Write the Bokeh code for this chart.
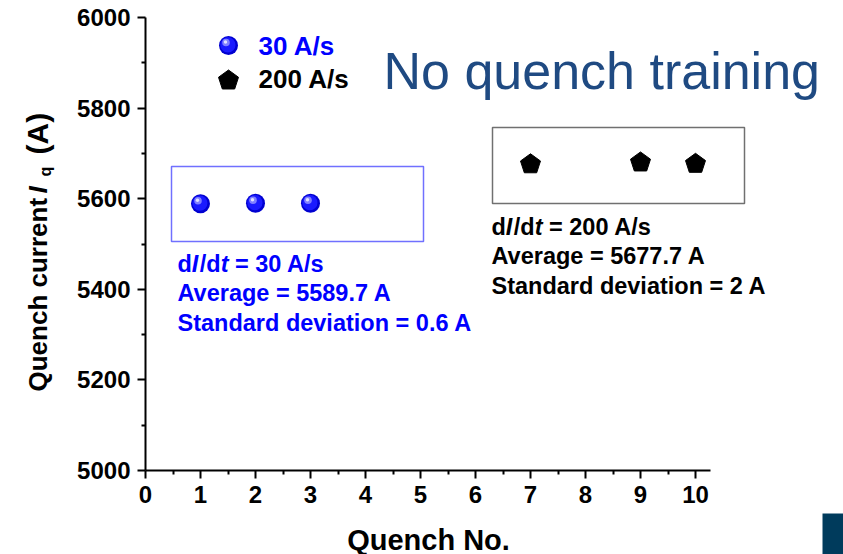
import math
from bokeh.plotting import figure
from bokeh.models import Range1d, FixedTicker, Label, BoxAnnotation, ColumnDataSource
from bokeh.transform import dodge
from bokeh.embed import file_html
from bokeh.resources import INLINE

# Quench number and quench current (A) for each ramp rate
quench_30 = [1, 2, 3]
current_30 = [5589, 5590, 5590]
quench_200 = [7, 9, 10]
current_200 = [5676, 5680, 5677]

x_ticks = list(range(0, 11))
y_ticks = [5000, 5200, 5400, 5600, 5800, 6000]

BOLD = "Liberation Sans"
BLUE = "#0000ff"
W, H = 843, 554

# pixel position of the axes origin and the scale of each axis
X0_PX, X_PX_PER_UNIT = 145, 55.0
Y_TOP_PX, Y_PX_PER_KA = 17, 453.0
X_PER_PX = 1 / X_PX_PER_UNIT
Y_PER_PX = 1000.0 / Y_PX_PER_KA


def dx(px):
    return (px - X0_PX) * X_PER_PX


def dy(py):
    return 6000 - (py - Y_TOP_PX) * Y_PER_PX


# the frame fills the whole page; the axes sit at fixed data locations inside it
p = figure(width=W, height=H, frame_width=W, frame_height=H,
           x_range=Range1d(dx(0), dx(W)), y_range=Range1d(dy(H), dy(0)),
           output_backend="svg", toolbar_location=None, min_border=0)
p.outline_line_color = None
p.xgrid.visible = False
p.ygrid.visible = False
p.background_fill_color = "white"
p.border_fill_color = "white"

for ax in (p.xaxis[0], p.yaxis[0]):
    ax.axis_line_width = 2
    ax.axis_line_color = "black"
    ax.major_tick_line_width = 2
    ax.minor_tick_line_width = 2
    ax.major_tick_in = 0
    ax.major_tick_out = 8
    ax.minor_tick_in = 0
    ax.minor_tick_out = 4
    ax.major_label_text_font = BOLD
    ax.major_label_text_font_style = "bold"
    ax.major_label_text_font_size = "24px"
    ax.major_label_text_color = "black"

p.xaxis[0].fixed_location = 5000
p.yaxis[0].fixed_location = 0
p.xaxis[0].ticker = FixedTicker(ticks=x_ticks, minor_ticks=[t + 0.5 for t in x_ticks[:-1]])
p.yaxis[0].ticker = FixedTicker(ticks=y_ticks, minor_ticks=[t + 100 for t in y_ticks[:-1]])
p.xaxis[0].bounds = (0, dx(710))
p.yaxis[0].bounds = (5000, 6000)
p.xaxis[0].major_label_standoff = 7
p.yaxis[0].major_label_standoff = 7


def pentagon(xc, yc, r_px):
    xs, ys = [], []
    for k in range(5):
        a = math.radians(90 + 72 * k)
        xs.append(xc + r_px * math.cos(a) * X_PER_PX)
        ys.append(yc + r_px * math.sin(a) * Y_PER_PX)
    return xs, ys


def sphere(src, xf, yf, size):
    p.scatter(xf, yf, source=src, size=size, fill_color="#0000d0", line_color=None)
    p.scatter(dodge(xf, -0.6 * X_PER_PX, range=p.x_range), dodge(yf, 0.6 * Y_PER_PX, range=p.y_range),
              source=src, size=size * 0.8, fill_color="#1a1aff", line_color=None)
    p.scatter(dodge(xf, -2.5 * X_PER_PX, range=p.x_range), dodge(yf, 3 * Y_PER_PX, range=p.y_range),
              source=src, size=size * 0.4, fill_color="#8080ff", line_color=None)
    p.scatter(dodge(xf, -3 * X_PER_PX, range=p.x_range), dodge(yf, 3.5 * Y_PER_PX, range=p.y_range),
              source=src, size=size * 0.18, fill_color="#e0e0ff", line_color=None)


# 30 A/s data
src30 = ColumnDataSource(dict(x=quench_30, y=current_30))
sphere(src30, "x", "y", 19)

# 200 A/s data
pent = [pentagon(x, y, 10.5) for x, y in zip(quench_200, current_200)]
p.patches([a for a, b in pent], [b for a, b in pent], fill_color="black", line_color="black")

# legend
leg = ColumnDataSource(dict(x=[dx(228)], y=[dy(45)]))
sphere(leg, "x", "y", 19)
lx, ly = pentagon(dx(228), dy(80), 10.5)
p.patch(lx, ly, fill_color="black", line_color="black")
p.add_layout(Label(x=dx(258), y=dy(45), text="30 A/s", text_color=BLUE, text_font=BOLD,
                   text_font_style="bold", text_font_size="26px", text_baseline="middle"))
p.add_layout(Label(x=dx(258), y=dy(78), text="200 A/s", text_color="black", text_font=BOLD,
                   text_font_style="bold", text_font_size="26px", text_baseline="middle"))

# title
p.add_layout(Label(x=dx(383), y=dy(70), text="No quench training", text_color="#1f4a82",
                   text_font="Liberation Sans", text_font_size="52px", text_baseline="alphabetic"))

# grouping boxes
p.add_layout(BoxAnnotation(left=dx(171), right=dx(423), top=dy(166), bottom=dy(241),
                           fill_alpha=0, line_color="#7070ff", line_alpha=1, line_width=1.5))
p.add_layout(BoxAnnotation(left=dx(492), right=dx(744), top=dy(127), bottom=dy(203),
                           fill_alpha=0, line_color="#707070", line_alpha=1, line_width=1.5))


def stats_block(x0, y_first, rate, avg, sd, color):
    fs = 23.5
    size = f"{fs}px"
    pieces = [("d", "bold", 611), ("I", "bold italic", 278 + 60), ("/d", "bold", 889),
              ("t", "bold italic", 333 + 278), (f"= {rate} A/s", "bold", 0)]
    off = 0.0
    for txt, style, adv in pieces:
        p.add_layout(Label(x=x0, y=y_first, x_offset=off, text=txt, text_color=color,
                           text_font=BOLD, text_font_style=style, text_font_size=size,
                           text_baseline="middle"))
        off += adv * fs / 1000.0
    for i, line in enumerate([f"Average = {avg} A", f"Standard deviation = {sd} A"]):
        p.add_layout(Label(x=x0, y=y_first, y_offset=-(i + 1) * 29.8, text=line,
                           text_color=color, text_font=BOLD, text_font_style="bold",
                           text_font_size=size, text_baseline="middle"))


stats_block(dx(177), dy(263), "30", "5589.7", "0.6", BLUE)
stats_block(dx(491), dy(226), "200", "5677.7", "2", "black")

# x axis title
p.add_layout(Label(x=dx(428), y=dy(539), text="Quench No.", text_font=BOLD, text_color="black",
                   text_font_style="bold", text_font_size="29px", text_align="center",
                   text_baseline="middle"))

# y axis title, built from pieces running upward
yx = dx(37)
fs = 26
p.add_layout(Label(x=yx, y=dy(391), text="Quench current", angle=math.pi / 2, text_font=BOLD,
                   text_color="black", text_font_style="bold", text_font_size=f"{fs}px",
                   text_baseline="middle"))
p.add_layout(Label(x=yx, y=dy(193), text="I", angle=math.pi / 2, text_font=BOLD,
                   text_color="black", text_font_style="bold italic", text_font_size=f"{fs}px",
                   text_baseline="middle"))
p.add_layout(Label(x=dx(45), y=dy(176), text="q", angle=math.pi / 2, text_font=BOLD,
                   text_color="black", text_font_style="bold", text_font_size="16px",
                   text_baseline="middle"))
p.add_layout(Label(x=yx, y=dy(154), text="(A)", angle=math.pi / 2, text_font=BOLD,
                   text_color="black", text_font_style="bold", text_font_size="30px",
                   text_baseline="middle"))

# slide corner block
p.add_layout(BoxAnnotation(left=dx(822), right=dx(W), top=dy(513), bottom=dy(H),
                           fill_color="#003b5c", fill_alpha=1, line_color=None))

open("out.html", "w").write(file_html(p, INLINE))
